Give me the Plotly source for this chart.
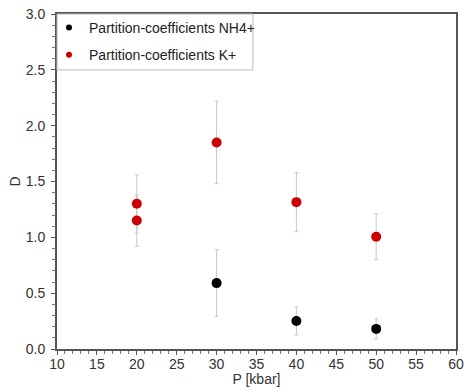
import plotly.graph_objects as go

# Data
p_nh4 = [30, 40, 50]
d_nh4 = [0.59, 0.25, 0.18]
err_nh4 = [0.30, 0.125, 0.09]

p_k = [20, 20, 30, 40, 50]
d_k = [1.30, 1.15, 1.85, 1.315, 1.005]
err_k = [0.26, 0.23, 0.37, 0.265, 0.205]

x_ticks = [10, 15, 20, 25, 30, 35, 40, 45, 50, 55, 60]
y_ticks = [0.0, 0.5, 1.0, 1.5, 2.0, 2.5, 3.0]

names = ["Partition-coefficients NH4+", "Partition-coefficients K+"]
colors = ["#000000", "#cc0000"]

FONT = "Arial, Liberation Sans, sans-serif"
err_style = dict(type="data", visible=True, color="#c8c8c8", thickness=1, width=2)

fig = go.Figure()
fig.add_trace(go.Scatter(
    x=p_nh4, y=d_nh4, mode="markers", name=names[0], showlegend=False,
    marker=dict(color=colors[0], size=10),
    error_y=dict(array=err_nh4, **err_style),
))
fig.add_trace(go.Scatter(
    x=p_k, y=d_k, mode="markers", name=names[1], showlegend=False,
    marker=dict(color=colors[1], size=10),
    error_y=dict(array=err_k, **err_style),
))
# legend entries with smaller symbols
for i, (n, c) in enumerate(zip(names, colors)):
    fig.add_trace(go.Scatter(
        x=[None], y=[None], mode="markers", name=n, legendgroup=f"g{i}",
        marker=dict(color=c, size=6),
    ))

axis_common = dict(
    showgrid=False, zeroline=False, showline=True, linecolor="#555555",
    linewidth=2, mirror=True, ticks="outside", ticklen=4, tickwidth=1,
    tickcolor="#555555", tickfont=dict(family=FONT, size=14, color="#333333"),
    minor=dict(ticks="outside", ticklen=3, tickcolor="#777777", tickwidth=1),
    automargin=False,
)

fig.update_xaxes(
    range=[10, 60], tickvals=x_ticks, ticktext=[str(v) for v in x_ticks],
    minor_dtick=1, ticklabelstandoff=-3,
    title=dict(text="P [kbar]", font=dict(family=FONT, size=14, color="#333333"), standoff=5),
    **axis_common,
)
fig.update_yaxes(
    range=[0, 3], tickvals=y_ticks, ticktext=[f"{v:.1f}" for v in y_ticks],
    minor_dtick=0.1, ticklabelstandoff=3,
    title=dict(text="D", font=dict(family=FONT, size=14, color="#333333"), standoff=2),
    **axis_common,
)

# legend frame
fig.add_shape(
    type="rect", xref="paper", yref="paper",
    x0=0, x1=0.491, y0=0.833, y1=1,
    line=dict(color="#bbbbbb", width=1), fillcolor="white", layer="above",
)

fig.update_layout(
    width=465, height=387,
    margin=dict(l=57, r=9, t=14, b=38),
    plot_bgcolor="white", paper_bgcolor="white",
    showlegend=True,
    legend=dict(
        x=-0.02, y=1.006, xanchor="left", yanchor="top",
        bgcolor="rgba(0,0,0,0)", borderwidth=0,
        font=dict(family=FONT, size=14, color="#222222"),
        itemwidth=30, traceorder="grouped", tracegroupgap=6,
    ),
)

fig.write_html("out.html", config={"displayModeBar": False},
               post_script="document.body.style.margin='0';")
